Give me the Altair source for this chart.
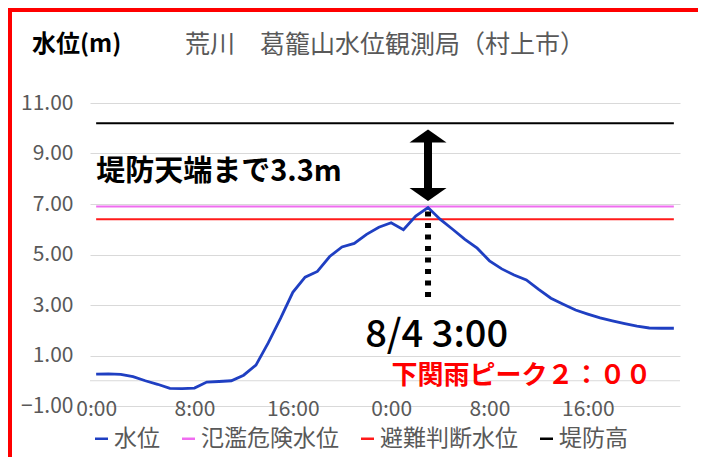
import altair as alt
import pandas as pd

# ---- data ----
hours = list(range(48))
water_level = [0.26, 0.27, 0.25, 0.16, 0.00, -0.14, -0.30, -0.31, -0.29, -0.05,
               -0.03, 0.00, 0.22, 0.62, 1.50, 2.47, 3.50, 4.10, 4.33, 4.92,
               5.30, 5.44, 5.80, 6.08, 6.26, 5.98, 6.52, 6.86, 6.39, 6.00,
               5.60, 5.25, 4.75, 4.43, 4.19, 3.99, 3.62, 3.27, 3.03, 2.80,
               2.64, 2.49, 2.37, 2.26, 2.16, 2.09, 2.08, 2.08]
series_names = ["水位", "氾濫危険水位", "避難判断水位", "堤防高"]
series_colors = ["#1F3FC2", "#F06CF0", "#FF1A1A", "#000000"]
danger_level = 6.9
judge_level = 6.4
levee_level = 10.2
x_tick_hours = [0, 8, 16, 24, 32, 40]
y_tick_values = [-1, 1, 3, 5, 7, 9, 11]
peak_hour = 27
peak_level = 6.86

title_text = "荒川　葛籠山水位観測局（村上市）"
unit_text = "水位(m)"
gap_text = "堤防天端まで3.3m"
peak_text = "8/4 3:00"
rain_text = "下関雨ピーク２：００"

FONT = "Noto Sans CJK JP"
GRAY = "#595959"

water_df = pd.DataFrame({"hour": hours, "value": water_level, "series": series_names[0]})
level_df = pd.DataFrame({
    "hour": hours * 3,
    "value": [danger_level] * 48 + [judge_level] * 48 + [levee_level] * 48,
    "series": [series_names[1]] * 48 + [series_names[2]] * 48 + [series_names[3]] * 48,
})

xs = alt.Scale(domain=[-0.5, 47.5], nice=False, zero=False)
ys = alt.Scale(domain=[-1, 11], nice=False, zero=False)
x_axis = alt.Axis(values=x_tick_hours, labelExpr="(datum.value % 24) + ':00'",
                  grid=False, ticks=False, domain=False, labelFontSize=21,
                  labelColor=GRAY, labelFont=FONT, labelBaseline="middle",
                  labelPadding=3, title=None)
y_axis = alt.Axis(values=y_tick_values, format=".2f", grid=True, gridColor="#D9D9D9",
                  gridWidth=1.2, ticks=False, domain=False, labelFontSize=21,
                  labelColor=GRAY, labelFont=FONT, labelPadding=17, title=None)
X = alt.X("hour:Q", scale=xs, axis=x_axis)
Y = alt.Y("value:Q", scale=ys, axis=y_axis)

color = alt.Color("series:N",
                  scale=alt.Scale(domain=series_names, range=series_colors),
                  sort=series_names,
                  legend=alt.Legend(title=None, orient="none", direction="horizontal",
                                    legendX=0, legendY=324, symbolType="stroke",
                                    symbolSize=170, symbolStrokeWidth=2.5,
                                    labelFontSize=23, labelColor=GRAY, labelFont=FONT,
                                    labelOffset=1, columnPadding=16))

zero_line = alt.Chart(pd.DataFrame({"value": [0]})).mark_rule(
    color="#D9D9D9", strokeWidth=1.2).encode(y=Y)

levels = alt.Chart(level_df).mark_line(strokeWidth=2).encode(x=X, y=Y, color=color)
water = alt.Chart(water_df).mark_line(strokeWidth=2.8).encode(x=X, y=Y, color=color)

# dotted drop line from the peak
drop_df = pd.DataFrame({"hour": [peak_hour], "value": [3.32], "value2": [peak_level]})
drop = alt.Chart(drop_df).mark_rule(color="black", strokeWidth=6, strokeDash=[5, 6.5]).encode(
    x=X, y=Y, y2=alt.Y2("value2"))

# double arrow between peak and levee crown
shaft_df = pd.DataFrame({"hour": [peak_hour], "value": [7.5], "value2": [9.55]})
shaft = alt.Chart(shaft_df).mark_rule(color="black", strokeWidth=8).encode(
    x=X, y=Y, y2=alt.Y2("value2"))
head_up = alt.Chart(pd.DataFrame({"hour": [peak_hour], "value": [9.69]})).mark_point(
    shape="M-1,0.35L1,0.35L0,-0.35Z", filled=True, size=1369, color="black", opacity=1
).encode(x=X, y=Y)
head_down = alt.Chart(pd.DataFrame({"hour": [peak_hour], "value": [7.38]})).mark_point(
    shape="M-1,-0.35L1,-0.35L0,0.35Z", filled=True, size=1369, color="black", opacity=1
).encode(x=X, y=Y)

gap_label = alt.Chart(pd.DataFrame({"hour": [0], "value": [8.27], "t": [gap_text]})).mark_text(
    align="left", baseline="middle", fontSize=29, fontWeight="bold", font=FONT, color="black"
).encode(x=X, y=Y, text="t:N")
peak_label = alt.Chart(pd.DataFrame({"hour": [27.7], "value": [1.78], "t": [peak_text]})).mark_text(
    align="center", baseline="middle", fontSize=38, fontWeight=500, font=FONT, color="black"
).encode(x=X, y=Y, text="t:N")
rain_label = alt.Chart(pd.DataFrame({"hour": [34.6], "value": [0.2], "t": [rain_text]})).mark_text(
    align="center", baseline="middle", fontSize=26, fontWeight="bold", font=FONT, color="#FF0000"
).encode(x=X, y=Y, text="t:N")

# chart-level titles
unit_title = alt.Chart(pd.DataFrame({"t": [unit_text]})).mark_text(
    align="left", baseline="middle", fontSize=24, fontWeight="bold", font=FONT, color="black"
).encode(x=alt.value(-58), y=alt.value(-58), text="t:N")
main_title = alt.Chart(pd.DataFrame({"t": [title_text]})).mark_text(
    align="center", baseline="middle", fontSize=25, font=FONT, color=GRAY
).encode(x=alt.value(295), y=alt.value(-58), text="t:N")

# red frame
frame_left = alt.Chart(pd.DataFrame({"a": [0]})).mark_rule(color="#FF0000", strokeWidth=5).encode(
    x=alt.value(-80.5), y=alt.value(-95), y2=alt.value(354))
frame_top = alt.Chart(pd.DataFrame({"a": [0]})).mark_rule(color="#FF0000", strokeWidth=6).encode(
    x=alt.value(-83), x2=alt.value(608), y=alt.value(-94))

chart = alt.layer(
    zero_line, levels, water, drop, shaft, head_up, head_down,
    gap_label, peak_label, rain_label, unit_title, main_title, frame_left, frame_top
).properties(
    width=590, height=303,
    padding={"left": 82, "top": 95, "right": 18, "bottom": 51},
    autosize=alt.AutoSizeParams(type="none"),
    background="white",
).configure_view(stroke=None)

chart.save("out.html", embed_options={"renderer": "svg", "actions": False})
